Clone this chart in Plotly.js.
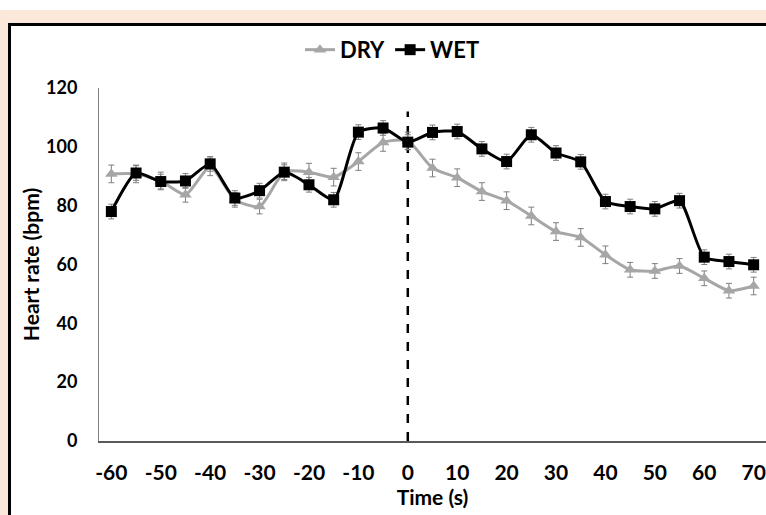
<!DOCTYPE html>
<html>
<head>
<meta charset="utf-8">
<script src="https://cdn.plot.ly/plotly-3.0.1.min.js"></script>
<style>
  html, body { margin:0; padding:0; width:766px; height:515px; overflow:hidden; background:#ffffff; }
  #bg { position:absolute; left:0; top:10px; width:766px; height:505px; background:#fce8da; }
  #frame { position:absolute; left:8px; top:23px; width:820px; height:600px; background:#ffffff; border:3px solid #000; box-sizing:border-box; }
  #chart { position:absolute; left:0; top:0; width:766px; height:515px; }
</style>
</head>
<body>
<div id="bg"></div>
<div id="frame"></div>
<div id="chart"></div>
<script>
const time = [-60,-55,-50,-45,-40,-35,-30,-25,-20,-15,-10,-5,0,5,10,15,20,25,30,35,40,45,50,55,60,65,70];
const dryHR = [90.8,90.8,88.4,83.7,93.2,82.0,79.7,91.5,91.4,89.7,95.0,101.5,102.0,92.8,89.5,84.8,81.7,76.5,71.2,69.2,63.3,58.2,57.8,59.5,55.3,51.1,52.7];
const dryErr = [3,3,3,2.5,3,2.5,2.5,3,3,3,3,3,3,3,3,3,3,3,3,3,3,2.5,2.5,2.5,2.5,2.5,3];
const wetHR = [78.0,91.1,88.2,88.4,94.2,82.6,85.1,91.4,87.1,82.0,105.0,106.4,101.6,104.9,105.2,99.3,95.0,104.1,97.9,94.9,81.4,79.7,78.9,81.7,62.5,61.0,59.9];
const wetErr = [2.5,2.5,2.5,2.5,2.5,2.5,2.5,2.5,2.5,2.5,2.5,2.5,2.5,2.5,2.5,2.5,2.5,2.5,2.5,2.5,2.5,2.5,2.5,2.5,2.5,2.5,2.5];
const xTicks = [-60,-50,-40,-30,-20,-10,0,10,20,30,40,50,60,70];
const yTicks = [0,20,40,60,80,100,120];

const FONT = 'Lato, "Open Sans", sans-serif';

const traces = [
  {
    x: time, y: dryHR, name: 'DRY', type: 'scatter', mode: 'lines+markers',
    line: {color: '#a6a6a6', width: 3, shape: 'spline', smoothing: 0.6},
    marker: {symbol: 'triangle-up', size: 11, color: '#a6a6a6'},
    error_y: {type: 'data', array: dryErr, visible: true, color: '#7f7f7f', thickness: 1, width: 3}
  },
  {
    x: time, y: wetHR, name: 'WET', type: 'scatter', mode: 'lines+markers',
    line: {color: '#000000', width: 3, shape: 'spline', smoothing: 0.6},
    marker: {symbol: 'square', size: 11, color: '#000000'},
    error_y: {type: 'data', array: wetErr, visible: true, color: '#7f7f7f', thickness: 1, width: 3}
  }
];

const layout = {
  width: 766, height: 515,
  margin: {l: 99, r: 0, t: 88, b: 74},
  paper_bgcolor: 'rgba(0,0,0,0)',
  plot_bgcolor: 'rgba(0,0,0,0)',
  font: {family: FONT, color: '#000'},
  showlegend: true,
  legend: {
    orientation: 'h', x: 0.44, xanchor: 'center', y: 1.108, yanchor: 'middle',
    font: {family: FONT, size: 22, color: '#000', weight: 'bold'},
    itemwidth: 30, bgcolor: 'rgba(0,0,0,0)'
  },
  xaxis: {
    range: [-62.5, 72.5], tickvals: xTicks, ticktext: xTicks.map(String),
    showgrid: false, zeroline: false, showline: true, linecolor: '#595959', linewidth: 1.5,
    ticks: '', ticklabelstandoff: 12,
    tickfont: {family: FONT, size: 21, weight: 'bold', color: '#000'},
    title: {text: 'Time (s)', font: {family: FONT, size: 21, weight: 'bold', color: '#000'}, standoff: 2}
  },
  yaxis: {
    range: [0, 120], tickvals: yTicks, ticktext: yTicks.map(String),
    showgrid: false, zeroline: false, showline: true, linecolor: '#808080', linewidth: 1,
    ticks: '', ticklabelstandoff: 17,
    tickfont: {family: FONT, size: 18, weight: 'bold', color: '#000'},
    title: {text: 'Heart rate (bpm)', font: {family: FONT, size: 21, weight: 'bold', color: '#000'}, standoff: 0}
  },
  shapes: [
    {type: 'line', xref: 'x', yref: 'y', x0: 0, x1: 0, y0: 0, y1: 112,
     line: {color: '#000', width: 2.5, dash: 'dash'}, layer: 'below'}
  ]
};

Plotly.newPlot('chart', traces, layout, {staticPlot: true, displayModeBar: false});
</script>
</body>
</html>
